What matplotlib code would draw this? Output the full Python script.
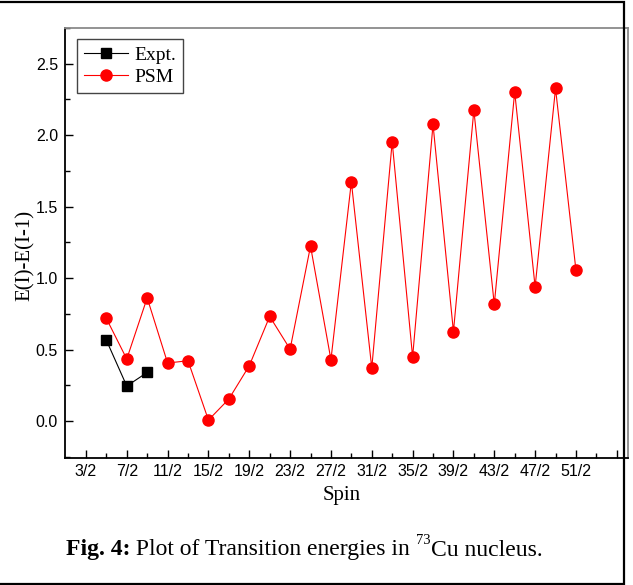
import numpy as np
import matplotlib
matplotlib.use('Agg')
import matplotlib.pyplot as plt
from matplotlib.patches import Rectangle
from matplotlib.ticker import FixedLocator, MultipleLocator

# spin given as 2I (numerator of I = n/2)
expt_spin = [5, 7, 9]
expt_de = [0.566, 0.245, 0.34]

psm_spin = [5, 7, 9, 11, 13, 15, 17, 19, 21, 23, 25, 27,
            29, 31, 33, 35, 37, 39, 41, 43, 45, 47, 49, 51]
psm_de = [0.718, 0.434, 0.862, 0.406, 0.422, 0.007, 0.154, 0.387,
          0.732, 0.503, 1.224, 0.429, 1.673, 0.371, 1.953, 0.448,
          2.075, 0.625, 2.175, 0.816, 2.303, 0.939, 2.327, 1.056]

xticks = list(range(3, 56, 4))
xticklabels = ['%d/2' % n for n in xticks[:-1]] + ['']
yticks = [0.0, 0.5, 1.0, 1.5, 2.0, 2.5]

plt.rcParams['font.family'] = 'Liberation Sans'

fig = plt.figure(figsize=(6.33, 5.85), dpi=100)
ax = fig.add_axes([65/633, 1-457.5/585, 562.5/633, 429.5/585])

ax.plot(expt_spin, expt_de, color='black', lw=0.8, marker='s', ms=6.5,
        label='Expt.')
ax.plot(psm_spin, psm_de, color='red', lw=0.8, marker='o', ms=8,
        label='PSM')

ax.set_xlim(0.95, 56.05)
ax.set_ylim(-0.255, 2.75)

ax.xaxis.set_major_locator(FixedLocator(xticks))
ax.set_xticklabels(xticklabels)
ax.xaxis.set_minor_locator(FixedLocator(list(range(5, 56, 4))))
ax.set_yticks(yticks)
ax.set_yticklabels(['%.1f' % v for v in yticks])
ax.yaxis.set_minor_locator(MultipleLocator(0.25))

ax.tick_params(which='both', direction='in', width=1.0, top=False, right=False,
               labelsize=11.5)
ax.tick_params(which='major', length=6, pad=5)
ax.tick_params(which='minor', length=3.5)

for s in ['left', 'bottom']:
    ax.spines[s].set_linewidth(1.3)
    ax.spines[s].set_color('black')
for s in ['top', 'right']:
    ax.spines[s].set_linewidth(1.3)
    ax.spines[s].set_color('#8a8a8a')

ax.set_xlabel('Spin', family='Liberation Serif', fontsize=15)
ax.xaxis.set_label_coords(0.491, -0.066)
ax.set_ylabel('E(I)-E(I-1)', family='Liberation Serif', fontsize=15)
ax.yaxis.set_label_coords(-0.054, 0.47)

leg = ax.legend(loc='upper left', bbox_to_anchor=(0.021, 0.974), borderaxespad=0,
                prop={'family': 'Liberation Serif', 'size': 14},
                handlelength=2.3, handletextpad=0.3, borderpad=0.35,
                labelspacing=0.25, fancybox=False, framealpha=1)
leg.get_frame().set_edgecolor('#444444')
leg.get_frame().set_linewidth(1.0)

# caption built from pieces: bold part, plain part, superscript, plain part
fig.canvas.draw()
r = fig.canvas.get_renderer()
cap_y = 1 - 550/585
cap_fs = 17
x = 66/633
pieces = [('Fig. 4:', 'bold', cap_fs, 0.0),
          (' Plot of Transition energies in ', 'normal', cap_fs, 0.0),
          ('73', 'normal', cap_fs*0.62, 9/585),
          ('Cu nucleus.', 'normal', cap_fs, 0.0)]
for txt, w, fs, dy in pieces:
    t = fig.text(x, cap_y + dy, txt, family='Liberation Serif', fontweight=w,
                 fontsize=fs, va='center', ha='left')
    bb = t.get_window_extent(renderer=r)
    x += bb.width / fig.bbox.width

fig.add_artist(Rectangle((-0.01, 1.5/585), 624/633 + 0.01, 582/585,
                         transform=fig.transFigure, fill=False,
                         lw=1.6, edgecolor='black', zorder=5))

fig.savefig('out.png', dpi=100)
